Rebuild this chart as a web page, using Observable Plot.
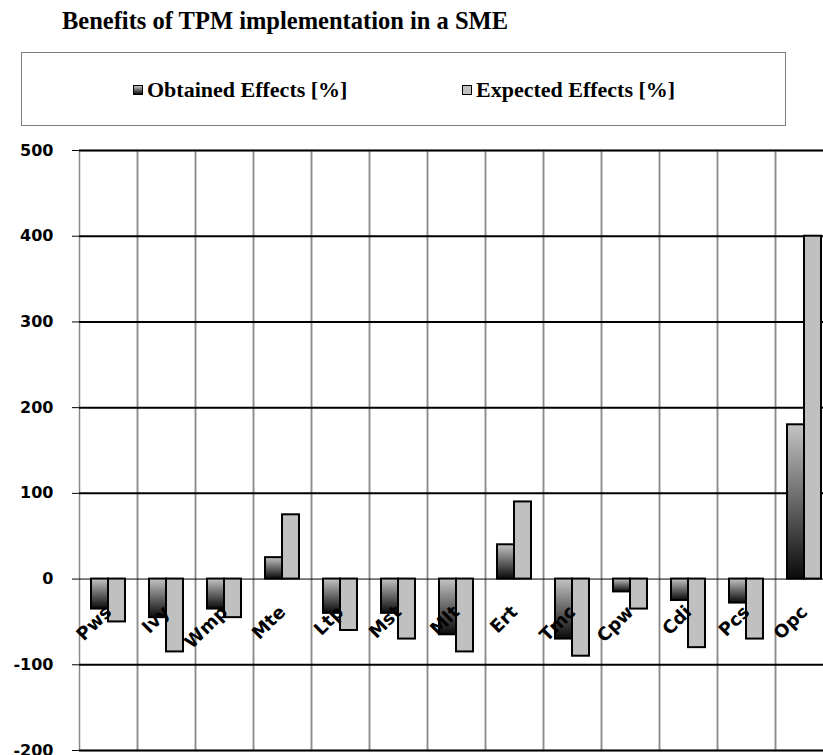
<!DOCTYPE html>
<html>
<head>
<meta charset="utf-8">
<script src="https://cdn.jsdelivr.net/npm/d3@7"></script>
<script src="https://cdn.jsdelivr.net/npm/@observablehq/plot@0.6"></script>
<style>
  html, body { margin: 0; padding: 0; background: #fff; }
  body { width: 823px; height: 755px; position: relative; overflow: hidden; }
  #title { position: absolute; left: 62px; top: 9px; font: bold 24.5px/1 "Liberation Serif", serif; color: #000; white-space: nowrap; }
  #legend { position: absolute; left: 21px; top: 52px; width: 765px; height: 74px; box-sizing: border-box; border: 1px solid #7f7f7f; }
  .item { position: absolute; top: 26px; display: flex; align-items: center; font: bold 22px/1 "Liberation Serif", serif; white-space: nowrap; }
  .sw { width: 10px; height: 10px; border: 1px solid #000; margin-right: 4px; box-sizing: border-box; }
  #chart { position: absolute; left: 0; top: 140px; }
</style>
</head>
<body>
<div id="title">Benefits of TPM implementation in a SME</div>
<div id="legend"></div>
<div id="chart"></div>
<script>
const categories = ["Pws","Ivy","Wmp","Mte","Ltp","Mst","Mlt","Ert","Tmc","Cpw","Cdi","Pcs","Opc"];
const obtained = [-35, -45, -35, 25, -40, -40, -65, 40, -70, -15, -25, -28, 180];
const expected = [-50, -85, -45, 75, -60, -70, -85, 90, -90, -35, -80, -70, 400];
const seriesNames = ["Obtained Effects [%]", "Expected Effects [%]"];
const yTicks = [-200, -100, 0, 100, 200, 300, 400, 500];

const rows = [];
categories.forEach((c, i) => {
  rows.push({cat: c, series: seriesNames[0], value: obtained[i]});
  rows.push({cat: c, series: seriesNames[1], value: expected[i]});
});

// legend
const legend = document.getElementById("legend");
const swFills = ["linear-gradient(#c4c4c4, #0a0a0a)", "#c0c0c0"];
const itemLeft = [111, 440];
seriesNames.forEach((s, i) => {
  const it = document.createElement("div");
  it.className = "item";
  it.style.left = itemLeft[i] + "px";
  const sw = document.createElement("div");
  sw.className = "sw";
  sw.style.background = swFills[i];
  const t = document.createElement("span");
  t.textContent = s;
  it.appendChild(sw); it.appendChild(t);
  legend.appendChild(it);
});

const svg = Plot.plot({
  width: 823,
  height: 615,
  marginTop: 10,
  marginBottom: 5,
  marginLeft: 75,
  marginRight: 0,
  style: {fontFamily: "DejaVu Sans", fontWeight: "bold", fontSize: "16px", color: "#000", background: "#fff", overflow: "visible"},
  fx: {domain: categories, range: [75, 837], padding: 0, axis: null},
  x: {domain: seriesNames, paddingInner: 0, paddingOuter: 0.67, axis: null},
  y: {domain: [-200, 500], ticks: yTicks, tickSize: 7, tickPadding: 19, tickFormat: d => String(d), label: null, line: true},
  marks: [
    Plot.frame({stroke: "#8c8c8c", strokeWidth: 1.5}),
    Plot.ruleY(yTicks.filter(d => d !== 0), {stroke: "#000", strokeWidth: 2}),
    Plot.ruleY([0], {stroke: "#000", strokeWidth: 1}),
    Plot.barY(rows.filter(d => d.series === seriesNames[0]), {fx: "cat", x: "series", y: "value", fill: "url(#gradObt)", stroke: "#000", strokeWidth: 2}),
    Plot.barY(rows.filter(d => d.series === seriesNames[1]), {fx: "cat", x: "series", y: "value", fill: "#c0c0c0", stroke: "#000", strokeWidth: 2}),
    Plot.text(categories, {fx: d => d, y: 0, text: d => d, rotate: -45, textAnchor: "end", lineAnchor: "top", dx: -5, dy: 25, fontSize: 18, fontWeight: "bold", fill: "#000"})
  ]
});

d3.select(svg).insert("defs", ":first-child").html(
  '<linearGradient id="gradObt" x1="0" y1="0" x2="0" y2="1">' +
  '<stop offset="0" stop-color="#c4c4c4"/><stop offset="1" stop-color="#0a0a0a"/></linearGradient>'
);
document.getElementById("chart").appendChild(svg);
</script>
</body>
</html>
